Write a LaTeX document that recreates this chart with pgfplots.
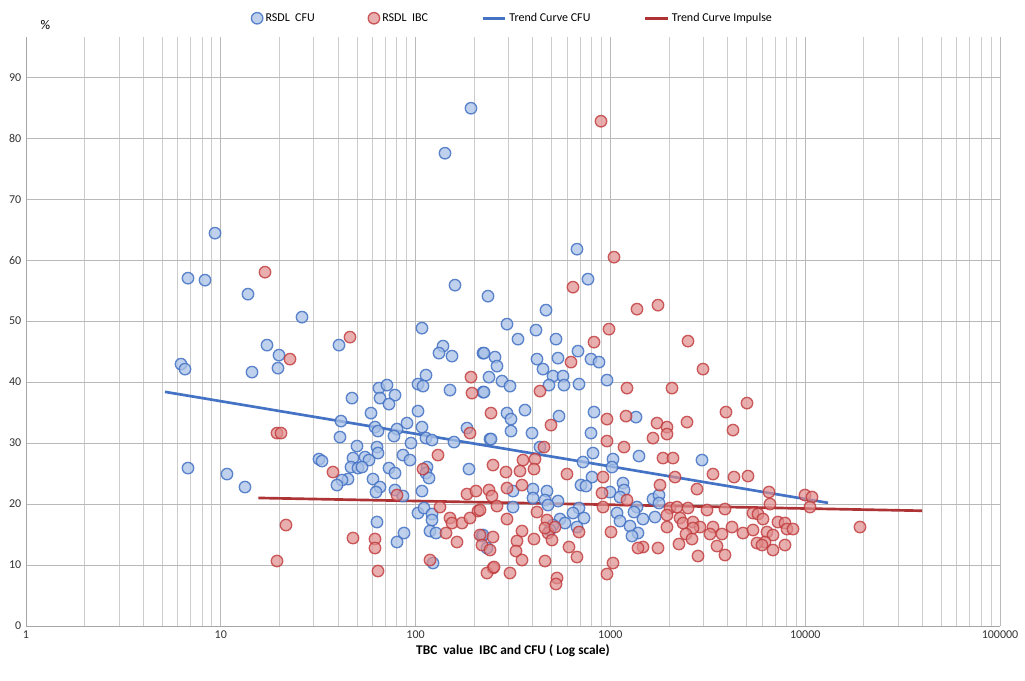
\documentclass[border=0pt]{standalone}
\usepackage{pgfplots}
\pgfplotsset{compat=1.18}
\usepackage{pgfplotstable}
\usepackage{fontspec}
\setmainfont{Carlito}
\definecolor{bl}{HTML}{4472C4}
\definecolor{blf}{HTML}{A9C1E6}
\definecolor{rd}{HTML}{C0393B}
\definecolor{rdf}{HTML}{E08C8C}
\pgfplotstableread{
px py
215 233
188 278
205 280
248 294
302 317
267 345
279 355
278 368
252 372
181 364
185 369
188 468
227 474
245 487
339 345
422 328
455 285
488 296
445 153
471 108
443 346
439 353
452 356
483 353
495 357
426 375
489 377
418 384
423 386
450 390
483 392
379 388
387 385
380 398
395 395
389 404
352 398
371 413
418 411
341 421
340 437
375 427
378 431
397 429
407 423
394 436
422 427
426 438
432 440
411 443
454 442
467 428
490 439
357 446
377 447
378 453
365 457
369 460
353 458
319 459
322 461
351 467
358 468
362 467
403 455
410 460
389 468
395 473
427 467
426 473
429 478
469 469
373 479
348 479
342 480
337 485
380 487
376 492
395 490
403 496
422 491
418 513
424 508
432 514
432 520
377 522
404 533
397 542
430 531
436 533
433 563
482 536
577 249
588 279
546 310
507 324
536 330
518 339
556 339
484 353
497 366
537 359
558 358
578 351
591 359
599 362
543 369
502 381
510 386
553 376
563 376
549 385
564 385
579 384
607 380
484 392
507 413
511 419
525 410
559 416
594 412
636 417
511 431
532 433
591 433
491 439
540 447
593 453
613 459
612 467
639 456
702 460
583 462
592 477
581 485
586 486
610 492
623 483
624 490
620 497
533 489
547 491
513 491
533 498
545 500
558 501
548 505
513 507
579 508
637 507
653 499
659 495
659 503
634 512
643 519
655 517
617 513
620 521
630 526
638 533
632 536
584 518
573 513
560 519
565 523
577 527
553 525
550 530
483 535
487 548
}\blue
\pgfplotstableread{
px py
265 272
350 337
290 359
277 433
281 433
333 472
286 525
277 561
353 538
375 539
375 548
378 571
397 495
423 469
438 455
440 507
471 377
472 393
491 413
470 433
493 465
467 494
476 491
489 490
492 496
478 511
450 518
452 523
462 523
470 518
446 533
457 542
480 535
493 537
482 545
490 550
493 568
487 573
430 560
601 121
614 257
573 287
637 309
658 305
609 329
594 342
571 362
688 341
703 369
540 391
627 388
672 388
747 403
726 412
733 430
687 422
657 423
667 427
667 434
653 438
551 425
607 419
626 416
607 441
624 447
544 447
663 458
673 458
523 460
535 459
506 472
520 471
534 469
567 474
603 477
675 477
713 474
734 477
748 476
660 485
697 489
769 492
805 495
812 497
810 507
770 504
860 527
507 488
522 485
602 493
627 500
480 510
497 506
537 512
507 519
547 520
603 507
670 508
677 507
688 508
707 510
725 509
753 513
758 514
763 519
778 522
785 523
787 529
793 529
667 515
680 518
683 523
693 522
700 527
713 527
722 534
732 527
743 533
753 530
767 532
773 535
765 542
785 545
757 543
762 545
773 550
710 534
693 528
667 527
686 534
692 539
679 544
717 546
725 555
698 556
658 548
643 547
638 548
611 532
579 532
522 531
517 541
534 539
548 533
552 540
545 528
555 527
516 551
522 560
545 561
569 547
577 557
494 567
510 573
557 578
556 584
613 563
607 574
}\red
\begin{document}
\begin{tikzpicture}
\useasboundingbox (-19.5pt,-41.25pt) rectangle (749.25pt,469.5pt);
\begin{axis}[
  at={(0,0)}, anchor=south west,
  scale only axis, width=730.5pt, height=441.75pt,
  xmode=log, xmin=1, xmax=100000, ymin=0, ymax=96.6,
  ytick={0,10,...,90},
  grid=both, minor x tick num=8,
  major grid style={gray!55, line width=0.6pt},
  minor grid style={gray!40, line width=0.6pt},
  axis line style={gray!70},
  axis x line*=bottom, axis y line*=left,
  tick style={draw=none},
  log ticks with fixed point,
  /pgf/number format/assume math mode=true,
  /pgf/number format/1000 sep={},
  ticklabel style={font=\small, text=black!80},
  xlabel={\textbf{TBC\ \ value\ \ IBC and CFU ( Log scale)}},
  xlabel style={font=\normalsize, yshift=2pt},
  legend columns=4,
  legend style={at={(0.5,1)}, anchor=south, yshift=6pt, draw=none, font=\small,
    /tikz/every even column/.append style={column sep=38pt}},
  clip=false,
]
\addplot[only marks, mark=*, mark size=4.3pt, mark options={draw=bl, fill=blf, fill opacity=0.75, draw opacity=0.85, line width=1pt}]
  table[x expr={10^((\thisrow{px}-26)/194.8)}, y expr={(626-\thisrow{py})/6.1}] {\blue};
\addlegendentry{RSDL\ \ CFU}
\addplot[only marks, mark=*, mark size=4.3pt, mark options={draw=rd, fill=rdf, fill opacity=0.7, draw opacity=0.8, line width=1pt}]
  table[x expr={10^((\thisrow{px}-26)/194.8)}, y expr={(626-\thisrow{py})/6.1}] {\red};
\addlegendentry{RSDL\ \ IBC}
\addplot[bl, line width=2pt] coordinates {(5.17,38.4) (13100,20.2)};
\addlegendentry{Trend Curve CFU}
\addplot[rd!90!black, line width=2pt] coordinates {(15.6,21.0) (39800,18.9)};
\addlegendentry{Trend Curve Impulse}
\node[font=\normalsize] at (axis description cs:0.02,1.02) {\%};
\end{axis}
\end{tikzpicture}
\end{document}
